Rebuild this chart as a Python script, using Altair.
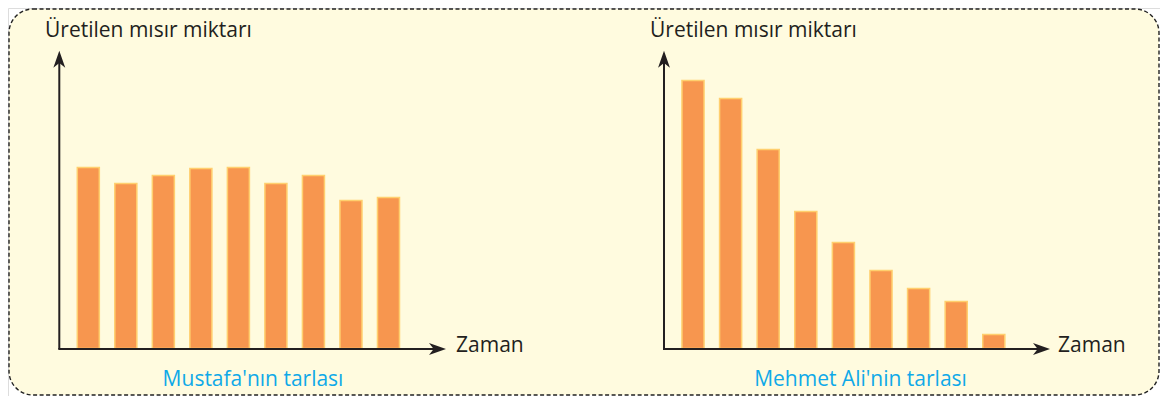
import altair as alt
import pandas as pd

# ---- data (bar heights in arbitrary units) ----
periods = [1, 2, 3, 4, 5, 6, 7, 8, 9]
mustafa = [181, 165, 173, 180, 181, 165, 173, 148, 151]
mehmet = [268, 250, 199, 137, 106, 78, 60, 47, 14]

y_title = "Üretilen mısır miktarı"
x_title = "Zaman"
panel_titles = ["Mustafa'nın tarlası", "Mehmet Ali'nin tarlası"]

FONT = "Open Sans"
INK = "#231f20"
BAR_FILL = "#f7964f"
BAR_STROKE = "#ffcf6e"
BG = "#fffbdf"
BLUE = "#0fa9e8"

left_df = pd.DataFrame({"donem_m": periods, "miktar": mustafa})
right_df = pd.DataFrame({"donem_a": periods, "miktar": mehmet})
one = pd.DataFrame({"k": [0]})

y_scale = alt.Scale(domain=[0, 300], range=[340.5, 40.5])

box = alt.Chart(one).mark_rect(
    fill=BG, stroke="#222222", strokeWidth=1.4, strokeDash=[4, 2.5], cornerRadius=24
).encode(x=alt.value(1), x2=alt.value(1151), y=alt.value(1), y2=alt.value(387))

bars_left = alt.Chart(left_df).mark_bar(
    fill=BAR_FILL, stroke=BAR_STROKE, strokeWidth=1.5
).encode(
    x=alt.X("donem_m:O", axis=None,
            scale=alt.Scale(range=[61.55, 399.25], paddingInner=0.413, paddingOuter=0.2067)),
    y=alt.Y("miktar:Q", axis=None, scale=y_scale),
)

bars_right = alt.Chart(right_df).mark_bar(
    fill=BAR_FILL, stroke=BAR_STROKE, strokeWidth=1.5
).encode(
    x=alt.X("donem_a:O", axis=None,
            scale=alt.Scale(range=[666.2, 1004.6], paddingInner=0.413, paddingOuter=0.2067)),
    y=alt.Y("miktar:Q", axis=None, scale=y_scale),
)

UP = "M0,-1L0.7,1L0,0.45L-0.7,1Z"
RIGHT = "M1,0L-1,-0.7L-0.45,0L-1,0.7Z"


def rule(x, y, x2=None, y2=None):
    enc = dict(x=alt.value(x), y=alt.value(y))
    if x2 is not None:
        enc["x2"] = alt.value(x2)
    if y2 is not None:
        enc["y2"] = alt.value(y2)
    return alt.Chart(one).mark_rule(color=INK, strokeWidth=2).encode(**enc)


def head(shape, x, y):
    return alt.Chart(one).mark_point(
        shape=shape, filled=True, size=289, color=INK, opacity=1, strokeWidth=0
    ).encode(x=alt.value(x), y=alt.value(y))


def label(txt, x, y, align="left", color=INK):
    return alt.Chart(one).mark_text(
        text=txt, align=align, baseline="alphabetic", font=FONT, fontSize=21, color=color
    ).encode(x=alt.value(x), y=alt.value(y))


layers = [box, bars_left, bars_right]
for ax, xtip in [(51.3, 438.0), (656.0, 1042.0)]:
    layers += [
        rule(ax, 341.0, y2=52.0),
        rule(ax - 1, 341.0, x2=xtip - 6),
        head(UP, ax, 42.7 + 8.5),
        head(RIGHT, xtip - 8.5, 341.0),
    ]

layers += [
    label(y_title, 37, 29),
    label(y_title, 642, 29),
    label(x_title, 448, 344),
    label(x_title, 1050, 344),
    label(panel_titles[0], 245, 378, align="center", color=BLUE),
    label(panel_titles[1], 852.5, 378, align="center", color=BLUE),
]

chart = alt.layer(*layers).resolve_scale(x="independent").properties(
    width=1152, height=388, padding=0,
    autosize=alt.AutoSizeParams(type="none"),
).configure_view(stroke=None).configure(background="white")

chart.save("out.html", embed_options={"renderer": "svg", "actions": False})
